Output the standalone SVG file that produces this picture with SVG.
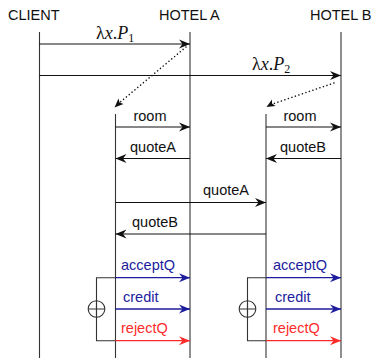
<svg xmlns="http://www.w3.org/2000/svg" width="377" height="358" viewBox="0 0 377 358">
  <style>
    .life { stroke: #333; stroke-width: 1.1; fill: none; }
    .msg { stroke: #111; stroke-width: 1.1; fill: none; }
    .blue { stroke: #1c1c9c; stroke-width: 1.3; fill: none; }
    .red { stroke: #ff2a2a; stroke-width: 1.3; fill: none; }
    .dot { stroke: #111; stroke-width: 1.5; stroke-dasharray: 0.1 3.6; stroke-linecap: round; fill: none; }
    .br { stroke: #333; stroke-width: 1.1; fill: none; }
    .hdr { font-family: "Liberation Sans", Arial, sans-serif; font-size: 14.5px; fill: #111; }
    .lbl { font-family: "Liberation Sans", Arial, sans-serif; font-size: 14.5px; fill: #111; }
    .lblb { font-family: "Liberation Sans", Arial, sans-serif; font-size: 14.5px; fill: #1c1c9c; }
    .lblr { font-family: "Liberation Sans", Arial, sans-serif; font-size: 14.5px; fill: #ff2a2a; }
    .math { font-family: "Liberation Serif", "Times New Roman", serif; font-size: 18px; fill: #111; }
  </style>
  <defs>
    <marker id="ah" markerUnits="userSpaceOnUse" markerWidth="14" markerHeight="12" viewBox="-12 -6 14 12" refX="0" refY="0" orient="auto">
      <path d="M0,0 L-11,-4.5 L-7.5,0 L-11,4.5 Z" fill="#111"/>
    </marker>
    <marker id="ahb" markerUnits="userSpaceOnUse" markerWidth="14" markerHeight="12" viewBox="-12 -6 14 12" refX="0" refY="0" orient="auto">
      <path d="M0,0 L-11,-4.5 L-7.5,0 L-11,4.5 Z" fill="#1c1c9c"/>
    </marker>
    <marker id="ahr" markerUnits="userSpaceOnUse" markerWidth="14" markerHeight="12" viewBox="-12 -6 14 12" refX="0" refY="0" orient="auto">
      <path d="M0,0 L-11,-4.5 L-7.5,0 L-11,4.5 Z" fill="#ff2a2a"/>
    </marker>
  </defs>

  <!-- participants -->
  <g id="client">
    <text class="hdr" x="8" y="20">CLIENT</text>
    <line class="life" x1="39.5" y1="32" x2="39.5" y2="358"/>
  </g>
  <g id="hotelA">
    <text class="hdr" x="159" y="20">HOTEL A</text>
    <line class="life" x1="190" y1="32" x2="190" y2="358"/>
  </g>
  <g id="hotelB">
    <text class="hdr" x="310" y="20">HOTEL B</text>
    <line class="life" x1="341" y1="32" x2="341" y2="358"/>
  </g>
  <g id="procA">
    <line class="life" x1="115.5" y1="114" x2="115.5" y2="358"/>
  </g>
  <g id="procB">
    <line class="life" x1="266" y1="114" x2="266" y2="358"/>
  </g>

  <!-- choice brackets -->
  <g id="choiceA">
    <path class="br" d="M115.5,277.7 H96.5 V340.7 H115.5"/>
    <circle class="br" cx="96.5" cy="309" r="8.3" fill="#fff"/>
    <path class="br" d="M88.2,309 H104.8 M96.5,300.7 V317.3"/>
  </g>
  <g id="choiceB">
    <path class="br" d="M266,277.7 H247.5 V340.7 H266"/>
    <circle class="br" cx="247.5" cy="309" r="8.3" fill="#fff"/>
    <path class="br" d="M239.2,309 H255.8 M247.5,300.7 V317.3"/>
  </g>

  <!-- messages -->
  <g id="connectors">
    <line class="msg" x1="39.5" y1="44" x2="190" y2="44" marker-end="url(#ah)"/>
    <line class="msg" x1="39.5" y1="75.5" x2="341" y2="75.5" marker-end="url(#ah)"/>
    <line class="dot" x1="186" y1="47" x2="118" y2="104" />
    <path d="M114.5,107.5 L118.5,98.5 L119.5,102.5 L123.5,104 Z" fill="#111"/>
    <line class="dot" x1="334" y1="83" x2="271" y2="104.5"/>
    <path d="M266.5,107 L272,99.5 L272,103.5 L275.5,106 Z" fill="#111"/>

    <line class="msg" x1="115.5" y1="127" x2="190" y2="127" marker-end="url(#ah)"/>
    <line class="msg" x1="190" y1="158.5" x2="115.5" y2="158.5" marker-end="url(#ah)"/>
    <line class="msg" x1="266" y1="127" x2="341" y2="127" marker-end="url(#ah)"/>
    <line class="msg" x1="341" y1="158.5" x2="266" y2="158.5" marker-end="url(#ah)"/>
    <line class="msg" x1="115.5" y1="202.5" x2="266" y2="202.5" marker-end="url(#ah)"/>
    <line class="msg" x1="266" y1="234" x2="115.5" y2="234" marker-end="url(#ah)"/>

    <line class="blue" x1="115.5" y1="277.7" x2="190" y2="277.7" marker-end="url(#ahb)"/>
    <line class="blue" x1="115.5" y1="309" x2="190" y2="309" marker-end="url(#ahb)"/>
    <line class="red" x1="115.5" y1="340.7" x2="190" y2="340.7" marker-end="url(#ahr)"/>
    <line class="blue" x1="266" y1="277.7" x2="341" y2="277.7" marker-end="url(#ahb)"/>
    <line class="blue" x1="266" y1="309" x2="341" y2="309" marker-end="url(#ahb)"/>
    <line class="red" x1="266" y1="340.7" x2="341" y2="340.7" marker-end="url(#ahr)"/>
  </g>

  <!-- message labels -->
  <g id="labels">
    <text class="math" x="96" y="38.5">λ<tspan font-style="italic">x</tspan>.<tspan font-style="italic">P</tspan><tspan font-size="12" dy="3">1</tspan></text>
    <text class="math" x="252" y="70">λ<tspan font-style="italic">x</tspan>.<tspan font-style="italic">P</tspan><tspan font-size="12" dy="3">2</tspan></text>

    <text class="lbl" x="150" y="121" text-anchor="middle">room</text>
    <text class="lbl" x="153" y="152" text-anchor="middle">quoteA</text>
    <text class="lbl" x="300" y="121" text-anchor="middle">room</text>
    <text class="lbl" x="303" y="152" text-anchor="middle">quoteB</text>
    <text class="lbl" x="226" y="195" text-anchor="middle">quoteA</text>
    <text class="lbl" x="155" y="227" text-anchor="middle">quoteB</text>

    <text class="lblb" x="121" y="270">acceptQ</text>
    <text class="lblb" x="123" y="302">credit</text>
    <text class="lblr" x="121" y="333">rejectQ</text>
    <text class="lblb" x="273" y="270">acceptQ</text>
    <text class="lblb" x="275" y="302">credit</text>
    <text class="lblr" x="273" y="333">rejectQ</text>
  </g>
</svg>
